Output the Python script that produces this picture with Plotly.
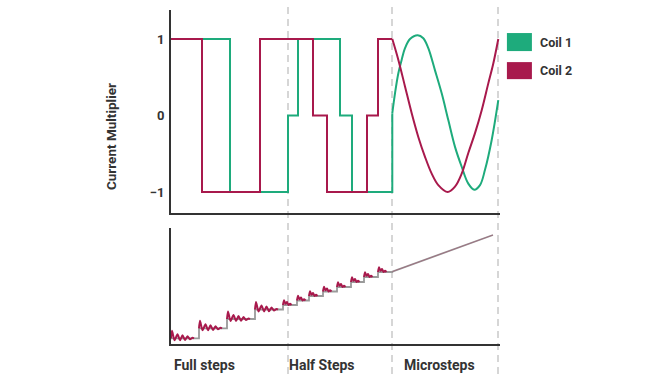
import plotly.graph_objects as go

# ---------------- data ----------------
# time axis (arbitrary units); region boundaries between drive modes
region_bounds = [11.7, 22.1, 32.7]
region_labels = ["Full steps", "Half Steps", "Microsteps"]
region_label_t = [0.1, 11.6, 23.1]

# Top chart: coil current multipliers (step part)
coil1_step_t = [0, 5.9, 11.7, 12.7, 16.9, 18.1]
coil1_step_v = [1, -1, 0, 1, 0, -1]
coil2_step_t = [0, 3.1, 8.9, 14.2, 15.6, 19.6, 20.7]
coil2_step_v = [1, -1, 1, 0, -1, 0, 1]

# Top chart: microstep part
coil1_micro_t = [22.13, 22.4, 22.73, 23.07, 23.4, 23.9, 24.67, 25.23, 25.73, 26.4,
                 27.07, 27.73, 28.4, 29.07, 29.73, 30.33, 30.9, 31.4, 32.07, 32.73]
coil1_micro_v = [0.03, 0.29, 0.55, 0.73, 0.88, 1.0, 1.05, 1.01, 0.88, 0.59,
                 0.29, -0.06, -0.41, -0.67, -0.89, -0.97, -0.91, -0.71, -0.32, 0.20]
coil2_micro_t = [22.13, 22.73, 23.4, 24.07, 24.73, 25.4, 26.07, 26.73, 27.67,
                 28.4, 29.07, 29.73, 30.4, 31.07, 31.73, 32.23, 32.73]
coil2_micro_v = [1.0, 0.73, 0.38, 0.03, -0.28, -0.54, -0.76, -0.91, -1.0,
                 -0.93, -0.76, -0.49, -0.23, 0.07, 0.42, 0.68, 1.0]

# Bottom chart: rotor position (steps), settle ringing
pos_step_t = [0, 2.8, 5.6, 8.4, 11.2, 12.6, 13.8, 15.2, 16.6, 18.0, 19.3, 20.7]
pos_step_v = [0.57, 1.57, 2.5, 3.45, 3.9, 4.35, 4.8, 5.25, 5.7, 6.2, 6.7, 7.2]
pos_micro_t = [22.13, 32.2]
pos_micro_v = [7.24, 10.9]
ring_full_dt = [0, 0.1, 0.35, 0.65, 0.9, 1.15, 1.4, 1.65, 1.9, 2.15, 2.3]
ring_full_dv = [0, 0.75, -0.2, 0.4, -0.2, 0.3, -0.18, 0.2, -0.1, 0.05, 0]
ring_half_dt = [0, 0.1, 0.25, 0.4, 0.55, 0.7, 0.85]
ring_half_dv = [0, 0.48, 0.12, 0.3, 0, 0.12, 0]
n_full_steps = 4

GREEN = "#1eab7c"
RED = "#a8194c"
GRAY = "#9a9a9a"
DARK = "#333333"
FONT = "Roboto"


def hv_path(ts, vs, t_end):
    xs, ys = [], []
    for i, (t, v) in enumerate(zip(ts, vs)):
        t1 = ts[i + 1] if i + 1 < len(ts) else t_end
        xs += [t, t1]
        ys += [v, v]
    return xs, ys


fig = go.Figure()

# ---- top chart ----
g_x, g_y = hv_path(coil1_step_t, coil1_step_v, coil1_micro_t[0])
g_x.append(coil1_micro_t[0]); g_y.append(coil1_micro_v[0])
r_x, r_y = hv_path(coil2_step_t, coil2_step_v, coil2_micro_t[0])

line_w = 2
fig.add_trace(go.Scatter(x=g_x, y=g_y, mode="lines", line=dict(color=GREEN, width=line_w),
                         xaxis="x", yaxis="y", showlegend=False, hoverinfo="skip"))
fig.add_trace(go.Scatter(x=coil1_micro_t, y=coil1_micro_v, mode="lines",
                         line=dict(color=GREEN, width=line_w, shape="spline"),
                         xaxis="x", yaxis="y", showlegend=False, hoverinfo="skip"))
fig.add_trace(go.Scatter(x=r_x, y=r_y, mode="lines", line=dict(color=RED, width=line_w),
                         xaxis="x", yaxis="y", showlegend=False, hoverinfo="skip"))
fig.add_trace(go.Scatter(x=coil2_micro_t, y=coil2_micro_v, mode="lines",
                         line=dict(color=RED, width=line_w, shape="spline"),
                         xaxis="x", yaxis="y", showlegend=False, hoverinfo="skip"))

# ---- bottom chart ----
p_x, p_y = hv_path(pos_step_t, pos_step_v, pos_micro_t[0])
p_x += pos_micro_t
p_y += pos_micro_v
fig.add_trace(go.Scatter(x=p_x, y=p_y, mode="lines", line=dict(color=GRAY, width=1.8),
                         xaxis="x2", yaxis="y2", showlegend=False, hoverinfo="skip"))

ring_x, ring_y = [], []
for i, (t, v) in enumerate(zip(pos_step_t, pos_step_v)):
    dts, dvs = (ring_full_dt, ring_full_dv) if i < n_full_steps else (ring_half_dt, ring_half_dv)
    ring_x += [t + d for d in dts] + [None]
    ring_y += [v + d for d in dvs] + [None]
fig.add_trace(go.Scatter(x=ring_x, y=ring_y, mode="lines",
                         line=dict(color=RED, width=2, shape="spline", smoothing=0.6),
                         xaxis="x2", yaxis="y2", showlegend=False, hoverinfo="skip",
                         connectgaps=False))
fig.add_trace(go.Scatter(x=pos_micro_t, y=pos_micro_v, mode="lines",
                         line=dict(color=RED, width=1.0), opacity=0.3,
                         xaxis="x2", yaxis="y2", showlegend=False, hoverinfo="skip"))

# ---- dividers ----
shapes = []
for b in region_bounds:
    shapes.append(dict(type="line", xref="x", yref="paper", x0=b, x1=b, y0=-0.09, y1=1.015,
                       line=dict(color="#c9c9c9", width=1.5, dash="7px,5px"), layer="below"))

# ---- manual legend ----
legend_items = [("Coil 1", GREEN, 0.877, 0.931), ("Coil 2", RED, 0.793, 0.844)]
annotations = []
for name, col, y0, y1 in legend_items:
    shapes.append(dict(type="rect", xref="paper", yref="paper", x0=1.021, x1=1.097,
                       y0=y0, y1=y1, fillcolor=col, line=dict(width=0)))
    annotations.append(dict(text=name, xref="paper", yref="paper", x=1.116, y=(y0 + y1) / 2,
                            xanchor="left", yanchor="middle", showarrow=False,
                            font=dict(family=FONT, size=12.5, color=DARK, weight=700)))

for lbl, t in zip(region_labels, region_label_t):
    annotations.append(dict(text=lbl, xref="x", yref="paper", x=t, y=-0.063,
                            xanchor="left", yanchor="middle", showarrow=False,
                            font=dict(family=FONT, size=14, color=DARK, weight=700)))

annotations.append(dict(text="Current Multiplier", xref="paper", yref="paper", x=-0.182, y=0.62,
                        textangle=-90, xanchor="center", yanchor="middle", showarrow=False,
                        font=dict(family=FONT, size=13.5, color=DARK, weight=700)))

axis_common = dict(showgrid=False, zeroline=False, showline=True, linecolor=DARK, linewidth=2,
                   ticks="")
fig.update_layout(
    width=651, height=383,
    margin=dict(l=171, r=151, t=10, b=39),
    paper_bgcolor="white", plot_bgcolor="white",
    xaxis=dict(domain=[0, 1], range=[0, 32.9], anchor="y", showticklabels=False, **axis_common),
    yaxis=dict(domain=[0.392, 1.0], range=[-1.275, 1.379], anchor="x",
               tickvals=[-1, 0, 1], ticktext=["−1", "0", "1"], ticklabelstandoff=2,
               tickfont=dict(family=FONT, size=13, color=DARK, weight=700), **axis_common),
    xaxis2=dict(domain=[0, 1], range=[0, 32.9], anchor="y2", showticklabels=False, **axis_common),
    yaxis2=dict(domain=[0, 0.3473], range=[0, 11.6], anchor="x2", showticklabels=False, **axis_common),
    shapes=shapes,
    annotations=annotations,
    showlegend=False,
)

fig.write_html("out.html")
